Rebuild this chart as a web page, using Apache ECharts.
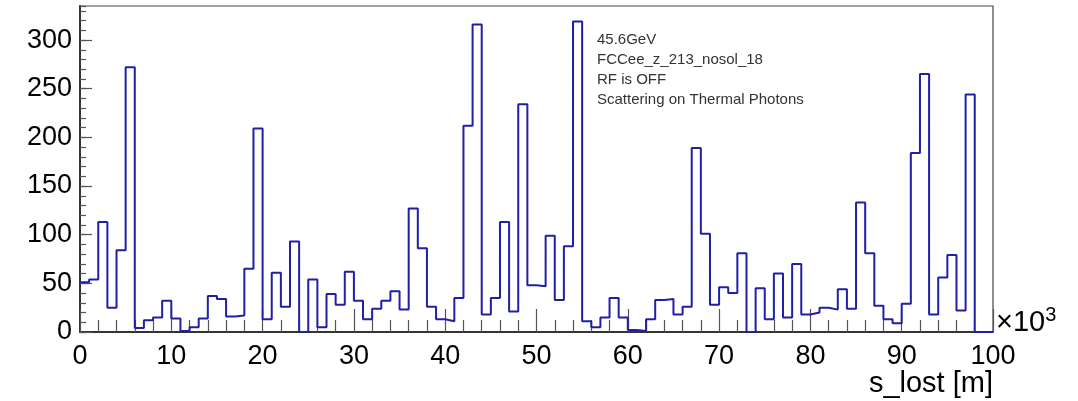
<!DOCTYPE html>
<html>
<head>
<meta charset="utf-8">
<script src="https://cdn.jsdelivr.net/npm/echarts@6/dist/echarts.min.js"></script>
<style>
html,body{margin:0;padding:0;background:#fff;}
#chart{width:1078px;height:401px;}
</style>
</head>
<body>
<div id="chart"></div>
<script>
// Histogram of s_lost (x in units of 10^3 m), 100 bins of width 1
const binStart = 0;
const binWidth = 1;
const counts = [
  51, 54, 113, 25, 84, 272, 4, 12, 15, 32,
  14, 1, 5, 14, 37, 34, 16, 17, 65, 209,
  13, 61, 26, 93, 0, 54, 5, 39, 28, 62,
  32, 13, 24, 32, 42, 23, 127, 86, 26, 13,
  11, 35, 212, 316, 18, 35, 113, 21, 234, 48,
  47, 99, 33, 88, 319, 11, 5, 15, 35, 15,
  2, 1, 13, 33, 34, 18, 26, 189, 101, 28,
  46, 40, 81, 0, 45, 13, 60, 15, 70, 18,
  20, 25, 23, 44, 24, 133, 81, 27, 13, 9,
  29, 184, 265, 18, 56, 79, 22, 244, 0, 0
];
const xTicks = [0, 10, 20, 30, 40, 50, 60, 70, 80, 90, 100];
const yTicks = [0, 50, 100, 150, 200, 250, 300];
const annotations = ['45.6GeV', 'FCCee_z_213_nosol_18', 'RF is OFF', 'Scattering on Thermal Photons'];

const pts = counts.map((v, i) => [binStart + i * binWidth, v]);
pts.push([binStart + counts.length * binWidth, counts[counts.length - 1]]);

const FONT = '"Liberation Sans", Arial, Helvetica, sans-serif';
const chart = echarts.init(document.getElementById('chart'), null, {renderer: 'canvas'});

chart.setOption({
  animation: false,
  backgroundColor: '#ffffff',
  grid: {left: 80, right: 85, top: 6, bottom: 69, show: true, borderColor: '#444', borderWidth: 1.2, backgroundColor: 'transparent'},
  xAxis: {
    type: 'value', min: xTicks[0], max: xTicks[xTicks.length - 1], interval: 10,
    axisLine: {show: true, lineStyle: {color: '#333', width: 2}},
    axisTick: {show: true, inside: true, length: 23, lineStyle: {color: '#555', width: 1.2}},
    minorTick: {show: true, splitNumber: 5, length: 12, lineStyle: {color: '#555', width: 1.2}},
    splitLine: {show: false},
    axisLabel: {show: true, margin: 11, color: '#000', fontSize: 27, fontFamily: FONT}
  },
  yAxis: [
    {
      type: 'value', position: 'left', min: 0, max: 335, interval: 10,
      axisLine: {show: true, lineStyle: {color: '#333', width: 2}},
      axisTick: {show: true, inside: true, length: 6, lineStyle: {color: '#555', width: 1.2}},
      axisLabel: {show: false},
      splitLine: {show: false}
    },
    {
      type: 'value', position: 'left', min: 0, max: 335, interval: 50,
      axisLine: {show: false},
      axisTick: {show: true, inside: true, length: 12, lineStyle: {color: '#555', width: 1.2}},
      axisLabel: {show: true, margin: 8, color: '#000', fontSize: 27, fontFamily: FONT,
        showMaxLabel: false,
        formatter: v => (yTicks.indexOf(v) >= 0 ? String(v) : '')},
      splitLine: {show: false}
    }
  ],
  series: [{
    type: 'line',
    xAxisIndex: 0, yAxisIndex: 0,
    step: 'end',
    data: pts,
    symbol: 'none',
    clip: false,
    lineStyle: {color: '#1f1fa8', width: 2},
    z: 5
  }],
  graphic: [
    {type: 'text', left: 996, top: 305, style: {
      text: '×10{s|3}', rich: {s: {fontSize: 20, fontFamily: FONT, fill: '#000', verticalAlign: 'top', padding: [0, 0, 16, 0]}},
      fontSize: 29, fontFamily: FONT, fill: '#000'}},
    {type: 'text', right: 85, top: 369, style: {text: 's_lost [m]', fontSize: 29, fontFamily: FONT, fill: '#000'}},
    ...annotations.map((t, k) => ({
      type: 'text', left: 597, top: 32 + k * 20,
      style: {text: t, fontSize: 15, fontFamily: FONT, fill: '#333'}
    }))
  ]
});
</script>
</body>
</html>
